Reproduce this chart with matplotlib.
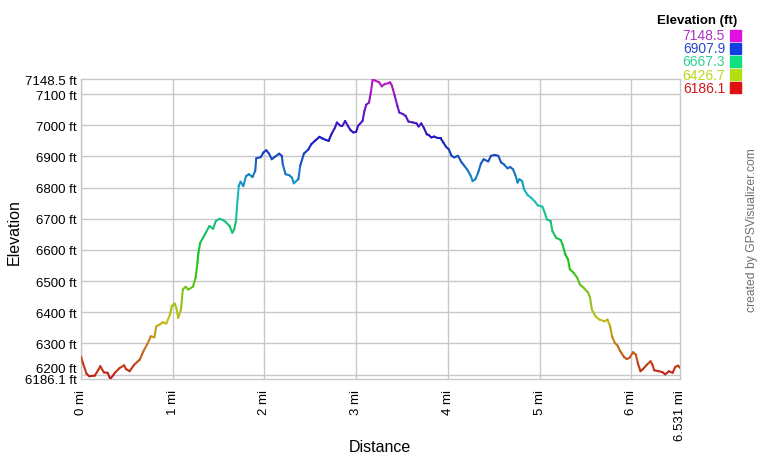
import numpy as np
import matplotlib
matplotlib.use("Agg")
import matplotlib.pyplot as plt
from matplotlib.collections import LineCollection
from matplotlib.colors import ListedColormap, Normalize, hsv_to_rgb

# distance (mi) and elevation (ft)
dist_mi = [
    0.00, 0.02, 0.06, 0.09, 0.15, 0.19, 0.21, 0.25, 0.29, 0.32, 0.37, 0.42,
    0.47, 0.49, 0.53, 0.58, 0.64, 0.68, 0.73, 0.76, 0.80, 0.82, 0.86, 0.89,
    0.93, 0.97, 0.99, 1.02, 1.04, 1.06, 1.09, 1.11, 1.14, 1.17, 1.22, 1.25,
    1.27, 1.28, 1.30, 1.33, 1.36, 1.40, 1.44, 1.47, 1.51, 1.55, 1.58, 1.62,
    1.65, 1.67, 1.69, 1.70, 1.72, 1.74, 1.77, 1.80, 1.83, 1.87, 1.90, 1.91,
    1.96, 1.99, 2.02, 2.05, 2.08, 2.11, 2.16, 2.19, 2.20, 2.23, 2.27, 2.30,
    2.32, 2.37, 2.39, 2.43, 2.48, 2.51, 2.55, 2.60, 2.63, 2.67, 2.70, 2.73,
    2.77, 2.79, 2.83, 2.85, 2.88, 2.91, 2.94, 2.97, 3.00, 3.02, 3.07, 3.09,
    3.11, 3.14, 3.16, 3.18, 3.21, 3.25, 3.28, 3.31, 3.35, 3.37, 3.39, 3.42,
    3.45, 3.47, 3.51, 3.54, 3.57, 3.62, 3.66, 3.68, 3.71, 3.74, 3.77, 3.79,
    3.82, 3.85, 3.89, 3.92, 3.95, 3.98, 4.01, 4.04, 4.07, 4.11, 4.15, 4.18,
    4.22, 4.25, 4.27, 4.30, 4.33, 4.36, 4.39, 4.44, 4.47, 4.51, 4.55, 4.58,
    4.61, 4.65, 4.68, 4.71, 4.74, 4.76, 4.78, 4.81, 4.83, 4.87, 4.91, 4.95,
    4.98, 5.03, 5.05, 5.08, 5.12, 5.14, 5.18, 5.23, 5.25, 5.28, 5.31, 5.33,
    5.37, 5.41, 5.44, 5.48, 5.53, 5.55, 5.57, 5.61, 5.65, 5.71, 5.74, 5.77,
    5.79, 5.82, 5.85, 5.88, 5.92, 5.95, 5.98, 6.02, 6.05, 6.07, 6.10, 6.13,
    6.17, 6.21, 6.23, 6.25, 6.30, 6.34, 6.37, 6.41, 6.45, 6.48, 6.51, 6.531,
]
elev_ft = [
    6258, 6238, 6203, 6195, 6197, 6216, 6227, 6207, 6206, 6186, 6206, 6221,
    6230, 6218, 6211, 6232, 6248, 6275, 6302, 6323, 6320, 6355, 6361, 6368,
    6364, 6393, 6420, 6428, 6414, 6382, 6409, 6473, 6482, 6473, 6482, 6511,
    6559, 6591, 6623, 6639, 6655, 6677, 6668, 6693, 6700, 6696, 6689, 6677,
    6655, 6666, 6693, 6736, 6805, 6819, 6805, 6837, 6843, 6834, 6854, 6894,
    6898, 6913, 6920, 6909, 6891, 6898, 6909, 6902, 6875, 6843, 6840, 6832,
    6814, 6827, 6870, 6909, 6923, 6939, 6950, 6963, 6958, 6953, 6950, 6971,
    6993, 7009, 6998, 6998, 7014, 6998, 6984, 6977, 6979, 6998, 7014, 7046,
    7066, 7073, 7105, 7147, 7143, 7138, 7125, 7132, 7135, 7138, 7127, 7095,
    7062, 7041, 7036, 7030, 7012, 7009, 7006, 6996, 7006, 6991, 6971, 6969,
    6961, 6964, 6959, 6959, 6945, 6931, 6923, 6902, 6897, 6902, 6881, 6870,
    6854, 6837, 6821, 6827, 6848, 6877, 6891, 6884, 6902, 6905, 6902, 6881,
    6875, 6862, 6866, 6859, 6837, 6816, 6827, 6821, 6795, 6776, 6767, 6755,
    6743, 6739, 6725, 6698, 6693, 6661, 6639, 6632, 6618, 6586, 6570, 6538,
    6527, 6511, 6489, 6479, 6463, 6447, 6409, 6387, 6377, 6371, 6377, 6355,
    6323, 6302, 6293, 6275, 6257, 6250, 6254, 6272, 6264, 6238, 6211, 6219,
    6232, 6243, 6232, 6214, 6211, 6208, 6201, 6211, 6206, 6225, 6229, 6222,
]

elev_min = 6186.1
elev_max = 7148.5
total_mi = 6.531
y_grid = [6200, 6300, 6400, 6500, 6600, 6700, 6800, 6900, 7000, 7100]
x_grid = [0, 1, 2, 3, 4, 5, 6]

legend_values = ["7148.5", "6907.9", "6667.3", "6426.7", "6186.1"]
legend_colors = ["#e010e0", "#1040e0", "#10e080", "#b0e010", "#e01010"]
legend_text_colors = ["#b030c8", "#2848c8", "#30d090", "#b8d818", "#d01818"]

plt.rcParams["font.family"] = ["Liberation Sans", "DejaVu Sans"]

fig = plt.figure(figsize=(7.6, 4.6), dpi=100)
ax = fig.add_axes([81 / 760, 1 - 380 / 460, 599 / 760, 300 / 460])

# hue-based colour ramp red -> magenta, a bit darker for the line
hues = np.linspace(0, 300 / 360, 256)
ramp = hsv_to_rgb(np.column_stack([hues, np.full(256, 0.88), np.full(256, 0.76)]))
cmap = ListedColormap(ramp)

x = np.array(dist_mi)
y = np.array(elev_ft)
pts = np.column_stack([x, y]).reshape(-1, 1, 2)
segs = np.concatenate([pts[:-1], pts[1:]], axis=1)
lc = LineCollection(segs, cmap=cmap, norm=Normalize(elev_min, elev_max),
                    linewidth=1.5, capstyle="round", joinstyle="round", zorder=3)
lc.set_array((y[:-1] + y[1:]) / 2)
ax.add_collection(lc)

ax.set_xlim(0, total_mi)
ax.set_ylim(elev_min, elev_max)

for gx in x_grid:
    ax.axvline(gx, color="#c8c8c8", lw=1, zorder=1)
for gy in y_grid:
    ax.axhline(gy, color="#c8c8c8", lw=1, zorder=1)
for sp in ax.spines.values():
    sp.set_color("#c8c8c8")
    sp.set_linewidth(1)

yt = [elev_min] + y_grid + [elev_max]
ax.set_yticks(yt)
ax.set_yticklabels([f"{v:g} ft" for v in yt])
xt = x_grid + [total_mi]
ax.set_xticks(xt)
ax.set_xticklabels([f"{v:g} mi" for v in xt], rotation=90, va="top", ha="center")
ax.tick_params(length=0, labelsize=9.5, colors="black")
ax.tick_params(axis="x", pad=7)
ax.tick_params(axis="y", pad=3)
for lbl in ax.get_yticklabels():
    if lbl.get_text() == "6200 ft":
        lbl.set_verticalalignment("bottom")

fig.text(380 / 760, 1 - 448 / 460, "Distance", ha="center", va="center", fontsize=11.5)
fig.text(14 / 760, 1 - 232 / 460, "Elevation", ha="center", va="center",
         rotation=90, fontsize=11.5)
fig.text(752 / 760, 1 - 230 / 460, "created by GPSVisualizer.com", ha="center",
         va="center", rotation=90, fontsize=8.7, color="#707070")

# colour legend, top right
fig.text(737 / 760, 1 - 21 / 460, "Elevation (ft)", ha="right", va="center",
         fontsize=9.5, fontweight="bold")
for i, (val, sq, tc) in enumerate(zip(legend_values, legend_colors, legend_text_colors)):
    yc = 36 + i * 13.2
    fig.text(725 / 760, 1 - yc / 460, val, ha="right", va="center",
             fontsize=10, color=tc)
    fig.patches.append(plt.Rectangle((730 / 760, 1 - (yc + 5.5) / 460), 11 / 760, 11 / 460,
                                     transform=fig.transFigure, color=sq, figure=fig))

fig.savefig("out.png", dpi=100)
